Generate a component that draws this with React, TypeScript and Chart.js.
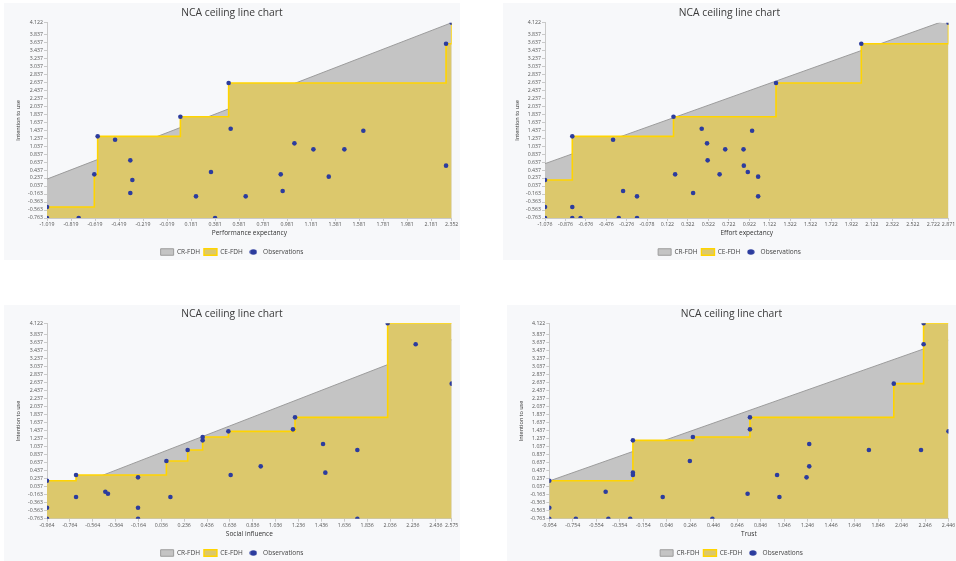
import React, { useEffect, useRef } from 'react';
import { Chart, registerables } from 'chart.js';

Chart.register(...registerables);
Chart.defaults.font.family = '"Open Sans", "Noto Sans", sans-serif';

// ---------------- data ----------------
const chartTitle = 'NCA ceiling line chart';
const yAxisTitle = 'Intention to use';
const seriesNames = ['CR-FDH', 'CE-FDH', 'Observations'];

const yTickLabels = [
  '-0.763', '-0.563', '-0.363', '-0.163', '0.037', '0.237', '0.437', '0.637', '0.837', '1.037',
  '1.237', '1.437', '1.637', '1.837', '2.037', '2.237', '2.437', '2.637', '2.837', '3.037',
  '3.237', '3.437', '3.637', '3.837', '4.122',
];

// Performance expectancy
const peXTicks = ['-1.019', '-0.819', '-0.619', '-0.419', '-0.219', '-0.019', '0.181', '0.381', '0.581', '0.781', '0.981', '1.181', '1.381', '1.581', '1.781', '1.981', '2.181', '2.352'];
const peObsX = [-1.019, -1.019, -0.755, -0.625, -0.597, -0.452, -0.325, -0.308, -0.325, 0.092, 0.222, 0.347, 0.381, 0.494, 0.511, 0.636, 0.928, 0.944, 1.042, 1.2, 1.328, 1.458, 1.616, 2.305, 2.305, 2.352];
const peObsY = [-0.488, -0.763, -0.763, 0.329, 1.279, 1.196, 0.679, 0.187, -0.138, 1.771, -0.221, 0.388, -0.763, 2.613, 1.471, -0.221, 0.329, -0.088, 1.104, 0.954, 0.271, 0.954, 1.421, 3.597, 0.546, 4.122];
const peCeX = [-1.019, -0.625, -0.597, 0.092, 0.494, 2.305, 2.352];
const peCeY = [-0.488, 0.329, 1.279, 1.771, 2.613, 3.597, 4.122];
const peCrX = [-1.019, 2.352];
const peCrY = [0.21, 4.122];

// Effort expectancy
const eeXTicks = ['-1.076', '-0.876', '-0.676', '-0.476', '-0.276', '-0.078', '0.122', '0.322', '0.522', '0.722', '0.922', '1.122', '1.322', '1.522', '1.722', '1.922', '2.122', '2.322', '2.522', '2.722', '2.871'];
const eeObsX = [-1.076, -1.076, -1.076, -0.809, -0.809, -0.809, -0.728, -0.41, -0.354, -0.312, -0.176, -0.176, 0.181, 0.197, 0.373, 0.457, 0.509, 0.515, 0.632, 0.687, 0.866, 0.869, 0.908, 0.95, 1.009, 1.009, 1.184, 2.018, 2.871];
const eeObsY = [0.187, -0.488, -0.763, 1.279, -0.488, -0.763, -0.763, 1.196, -0.763, -0.088, -0.221, -0.763, 1.771, 0.329, -0.138, 1.471, 1.104, 0.679, 0.329, 0.954, 0.954, 0.546, 0.388, 1.421, 0.271, -0.221, 2.613, 3.597, 4.122];
const eeCeX = [-1.076, -0.809, 0.181, 1.184, 2.018, 2.871];
const eeCeY = [0.187, 1.279, 1.771, 2.613, 3.597, 4.122];
const eeCrX = [-1.076, 2.871];
const eeCrY = [0.596, 4.205];

// Social influence
const siXTicks = ['-0.964', '-0.764', '-0.564', '-0.364', '-0.164', '0.036', '0.236', '0.436', '0.636', '0.836', '1.036', '1.236', '1.436', '1.636', '1.836', '2.036', '2.236', '2.436', '2.575'];
const siObsX = [-0.964, -0.964, -0.964, -0.71, -0.71, -0.454, -0.431, -0.168, -0.168, -0.168, 0.08, 0.115, 0.266, 0.397, 0.397, 0.622, 0.642, 0.905, 1.187, 1.205, 1.45, 1.47, 1.75, 1.75, 2.015, 2.26, 2.575];
const siObsY = [0.187, -0.488, -0.763, 0.329, -0.221, -0.088, -0.138, 0.271, -0.488, -0.763, 0.679, -0.221, 0.954, 1.279, 1.196, 1.421, 0.329, 0.546, 1.471, 1.771, 1.104, 0.388, 0.954, -0.763, 4.122, 3.597, 2.613];
const siCeX = [-0.964, -0.71, 0.08, 0.266, 0.397, 0.622, 1.205, 2.015, 2.575];
const siCeY = [0.187, 0.329, 0.679, 0.954, 1.279, 1.421, 1.771, 4.122, 4.122];
const siCrX = [-0.964, 2.575];
const siCrY = [-0.218, 3.71];

// Trust
const trXTicks = ['-0.954', '-0.754', '-0.554', '-0.354', '-0.154', '0.046', '0.246', '0.446', '0.646', '0.846', '1.046', '1.246', '1.446', '1.646', '1.846', '2.046', '2.246', '2.446'];
const trObsX = [-0.954, -0.954, -0.954, -0.728, -0.474, -0.451, -0.265, -0.242, -0.242, -0.242, 0.012, 0.243, 0.269, 0.435, 0.735, 0.755, 0.755, 0.986, 1.006, 1.237, 1.26, 1.26, 1.768, 1.98, 2.212, 2.234, 2.234, 2.446];
const trObsY = [0.187, -0.488, -0.763, -0.763, -0.088, -0.763, -0.763, 1.196, 0.388, 0.329, -0.221, 0.679, 1.279, -0.763, -0.138, 1.771, 1.471, 0.329, -0.221, 0.271, 1.104, 0.546, 0.954, 2.613, 0.954, 3.597, 4.122, 1.421];
const trCeX = [-0.954, -0.242, 0.269, 0.755, 1.98, 2.234, 2.446];
const trCeY = [0.187, 1.196, 1.279, 1.771, 2.613, 4.122, 4.122];
const trCrX = [-0.954, 2.446];
const trCrY = [0.18, 3.7];

// ---------------- styles ----------------
const PANEL_BG = '#f7f8fa';
const CR_FILL = '#c4c4c4';
const CR_LINE = '#9c9c9c';
const CE_FILL = '#dcc86c';
const CE_LINE = '#ffd400';
const OBS_COLOR = '#2c3c9e';
const EXTRA_H = 8; // canvas extends below the panel background so the legend block fits

type Spec = {
  xTitle: string; xTicks: string[];
  obsX: number[]; obsY: number[]; ceX: number[]; ceY: number[]; crX: number[]; crY: number[];
  left: number; top: number; w: number; h: number;
  plotL: number; plotT: number; plotR: number; plotB: number;
  titleC: number; legendC: number; xTitleC: number; yTitleC: number;
};

const panels: Spec[] = [
  { xTitle: 'Performance expectancy', xTicks: peXTicks, obsX: peObsX, obsY: peObsY, ceX: peCeX, ceY: peCeY, crX: peCrX, crY: peCrY,
    left: 4, top: 3, w: 456, h: 257, plotL: 43, plotT: 19.7, plotR: 447.7, plotB: 215, titleC: 10, legendC: 249, xTitleC: 230, yTitleC: 14 },
  { xTitle: 'Effort expectancy', xTicks: eeXTicks, obsX: eeObsX, obsY: eeObsY, ceX: eeCeX, ceY: eeCeY, crX: eeCrX, crY: eeCrY,
    left: 503, top: 3, w: 453, h: 257, plotL: 42, plotT: 19.7, plotR: 447.7, plotB: 215, titleC: 10, legendC: 249, xTitleC: 230, yTitleC: 14.3 },
  { xTitle: 'Social influence', xTicks: siXTicks, obsX: siObsX, obsY: siObsY, ceX: siCeX, ceY: siCeY, crX: siCrX, crY: siCrY,
    left: 4, top: 305, w: 456, h: 256, plotL: 43, plotT: 18.3, plotR: 447.7, plotB: 213.7, titleC: 9, legendC: 248, xTitleC: 229, yTitleC: 14.3 },
  { xTitle: 'Trust', xTicks: trXTicks, obsX: trObsX, obsY: trObsY, ceX: trCeX, ceY: trCeY, crX: trCrX, crY: trCrY,
    left: 507, top: 305, w: 449, h: 256, plotL: 42.3, plotT: 18.3, plotR: 443.7, plotB: 213.7, titleC: 9, legendC: 248, xTitleC: 229, yTitleC: 14.3 },
];

const zip = (xs: number[], ys: number[]) => xs.map((x, i) => ({ x, y: ys[i] }));

function makeDotIcon(color: string) {
  const c = document.createElement('canvas');
  c.width = 8;
  c.height = 6;
  const ctx = c.getContext('2d')!;
  ctx.fillStyle = color;
  ctx.beginPath();
  ctx.ellipse(4, 3, 3.6, 2.8, 0, 0, Math.PI * 2);
  ctx.fill();
  return c;
}

function buildConfig(s: Spec): any {
  const TITLE_FS = 10.3, TICK_FS = 5.2, XT_FS = 6.5, YT_FS = 5.5, LEG_FS = 6.5;
  const canvasH = s.h + EXTRA_H;
  const titleLH = TITLE_FS * 1.2;
  const titlePadTop = s.titleC - titleLH / 2;
  const titlePadBottom = s.plotT - titlePadTop - titleLH;
  const legPad = 4;
  const itemH = LEG_FS;
  const legendTop = s.legendC - legPad - itemH / 2;
  const legendH = legPad + itemH + 10; // Chart.js adds a fixed 10px to a horizontal legend
  const padBottom = canvasH - (legendTop + legendH);
  const xAxisH = legendTop - s.plotB;
  const xTitlePadBottom = legendTop - (XT_FS * 1.2) / 2 - s.xTitleC;
  const side = s.w - s.plotR;
  const yAxisW = s.plotL - side;
  const yTitlePadTop = s.yTitleC - side - (YT_FS * 1.2) / 2;

  const xVals = s.xTicks.map(Number);
  const yVals = yTickLabels.map(Number);
  const dot = makeDotIcon(OBS_COLOR);
  const baseGen = (Chart as any).defaults.plugins.legend.labels.generateLabels;

  return {
    type: 'line',
    data: {
      datasets: [
        {
          label: seriesNames[0], data: zip(s.crX, s.crY), order: 2,
          borderColor: CR_LINE, borderWidth: 1, backgroundColor: CR_FILL, fill: 'start',
          pointRadius: 0, pointHoverRadius: 0, pointStyle: 'rect', pointBorderWidth: 1,
        },
        {
          label: seriesNames[1], data: zip(s.ceX, s.ceY), order: 1, stepped: 'before',
          borderColor: CE_LINE, borderWidth: 1.6, backgroundColor: CE_FILL, fill: 'start',
          pointRadius: 0, pointHoverRadius: 0, pointStyle: 'rect', pointBorderWidth: 1.4,
        },
        {
          type: 'scatter', label: seriesNames[2], data: zip(s.obsX, s.obsY), order: 0,
          showLine: false, backgroundColor: OBS_COLOR, borderColor: OBS_COLOR, borderWidth: 0,
          pointRadius: 2.3, pointHoverRadius: 2.3, pointStyle: 'circle',
        },
      ],
    },
    options: {
      responsive: false,
      animation: false,
      events: [],
      layout: { padding: { left: side, right: side, top: 0, bottom: padBottom } },
      scales: {
        x: {
          type: 'linear', position: 'bottom',
          min: xVals[0], max: xVals[xVals.length - 1],
          afterBuildTicks: (scale: any) => { scale.ticks = xVals.map((v) => ({ value: v })); },
          afterFit: (scale: any) => { scale.height = xAxisH; },
          ticks: {
            autoSkip: false, maxRotation: 0, minRotation: 0, padding: 0.9,
            font: { size: TICK_FS }, color: '#555',
            callback: (_v: any, i: number) => s.xTicks[i],
          },
          grid: { drawOnChartArea: false, drawTicks: true, tickLength: 3, color: '#c9c9c9' },
          border: { display: true, color: '#c9c9c9' },
          title: { display: true, text: s.xTitle, font: { size: XT_FS }, color: '#333', padding: { top: 0, bottom: xTitlePadBottom } },
        },
        y: {
          type: 'linear', position: 'left',
          min: yVals[0], max: yVals[yVals.length - 1],
          afterBuildTicks: (scale: any) => { scale.ticks = yVals.map((v) => ({ value: v })); },
          afterFit: (scale: any) => { scale.width = yAxisW; },
          ticks: {
            autoSkip: false, padding: 1,
            font: { size: TICK_FS }, color: '#555',
            callback: (_v: any, i: number) => yTickLabels[i],
          },
          grid: { drawOnChartArea: false, drawTicks: true, tickLength: 3, color: '#c9c9c9' },
          border: { display: true, color: '#c9c9c9' },
          title: { display: true, text: yAxisTitle, font: { size: YT_FS }, color: '#333', padding: { top: yTitlePadTop, bottom: 0 } },
        },
      },
      plugins: {
        title: {
          display: true, text: chartTitle, color: '#3a3a3a',
          font: { size: TITLE_FS, weight: 'normal' },
          padding: { top: titlePadTop, bottom: titlePadBottom },
        },
        legend: {
          display: true, position: 'bottom',
          labels: {
            usePointStyle: true, pointStyleWidth: 13, boxHeight: LEG_FS, padding: legPad,
            font: { size: LEG_FS }, color: '#444',
            sort: (a: any, b: any) => a.datasetIndex - b.datasetIndex,
            generateLabels: (chart: any) =>
              baseGen(chart).map((it: any) => (it.datasetIndex === 2 ? { ...it, pointStyle: dot } : it)),
          },
        },
        tooltip: { enabled: false },
      },
    },
  };
}

function NcaPanel({ spec }: { spec: Spec }) {
  const ref = useRef<HTMLCanvasElement>(null);
  useEffect(() => {
    const chart = new Chart(ref.current as HTMLCanvasElement, buildConfig(spec));
    return () => chart.destroy();
  }, [spec]);
  const ch = spec.h + EXTRA_H;
  return (
    <>
      <div style={{ position: 'absolute', left: spec.left, top: spec.top, width: spec.w, height: spec.h, background: PANEL_BG }} />
      <canvas
        ref={ref}
        width={spec.w}
        height={ch}
        style={{ position: 'absolute', left: spec.left, top: spec.top, width: spec.w, height: ch }}
      />
    </>
  );
}

export default function App() {
  return (
    <div style={{ position: 'absolute', left: 0, top: 0, width: 956, height: 561, background: '#ffffff', overflow: 'hidden' }}>
      {panels.map((p) => (
        <NcaPanel key={p.xTitle} spec={p} />
      ))}
    </div>
  );
}
